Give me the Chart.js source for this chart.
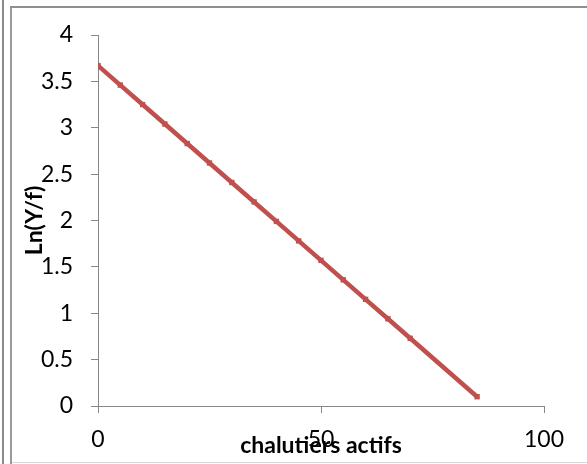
<!DOCTYPE html>
<html>
<head>
<meta charset="utf-8">
<script src="https://cdn.jsdelivr.net/npm/chart.js@4"></script>
<style>
  html, body { margin: 0; padding: 0; background: #fff; }
  #wrap { position: relative; width: 587px; height: 464px; overflow: hidden; }
  canvas { position: absolute; left: 0; top: 0; }
  .b { position: absolute; pointer-events: none; }
</style>
</head>
<body>
<div id="wrap">
  <canvas id="c" width="587" height="464"></canvas>
  <div class="b" style="left:2px;top:0;width:2px;height:464px;background:#8a8a8a"></div>
  <div class="b" style="left:10px;top:6px;width:2px;height:458px;background:#9a9a9a"></div>
  <div class="b" style="left:10px;top:6px;width:577px;height:2px;background:#8f8f8f"></div>
  <div class="b" style="left:12px;top:462px;width:575px;height:1px;background:#d8d8d8"></div>
</div>
<script>
const xValues = [0, 5, 10, 15, 20, 25, 30, 35, 40, 45, 50, 55, 60, 65, 70, 85];
const yValues = [3.67, 3.46, 3.25, 3.04, 2.83, 2.62, 2.41, 2.20, 1.99, 1.78, 1.57, 1.36, 1.15, 0.94, 0.73, 0.10];
const xTitle = "chalutiers actifs";
const yTitle = "Ln(Y/f)";
const xTicks = [0, 50, 100];
const yTicks = [0, 0.5, 1, 1.5, 2, 2.5, 3, 3.5, 4];

const FONT = "Lato, 'Open Sans', sans-serif";
const axisColor = '#868686';

const titlePlugin = {
  id: 'axisTitles',
  afterDraw(chart) {
    const ctx = chart.ctx;
    const ca = chart.chartArea;
    ctx.save();
    ctx.fillStyle = '#000';
    ctx.font = "bold 23px " + FONT;
    ctx.textAlign = 'center';
    ctx.textBaseline = 'middle';
    ctx.fillText(xTitle, (ca.left + ca.right) / 2, 446);
    ctx.translate(35, (ca.top + ca.bottom) / 2);
    ctx.rotate(-Math.PI / 2);
    ctx.fillText(yTitle, 0, 0);
    ctx.restore();
  }
};

new Chart(document.getElementById('c'), {
  type: 'scatter',
  data: {
    datasets: [{
      data: xValues.map((x, i) => ({ x: x, y: yValues[i] })),
      showLine: true,
      borderColor: '#C0504D',
      backgroundColor: '#C0504D',
      borderWidth: 4.5,
      pointStyle: 'rect',
      pointRadius: 3.8,
      pointHoverRadius: 3.8,
      pointBorderWidth: 0
    }]
  },
  options: {
    responsive: false,
    animation: false,
    devicePixelRatio: 1,
    layout: { padding: { left: 0, right: 43, top: 35, bottom: 0 } },
    plugins: { legend: { display: false }, tooltip: { enabled: false } },
    scales: {
      x: {
        type: 'linear',
        min: 0, max: 100,
        afterBuildTicks(scale) { scale.ticks = xTicks.map(v => ({ value: v })); },
        afterFit(scale) { scale.height = 58; },
        grid: { display: true, drawOnChartArea: false, drawTicks: true, tickLength: 7, color: axisColor, lineWidth: 1 },
        border: { display: true, color: axisColor, width: 1 },
        ticks: { color: '#000', padding: 13, maxRotation: 0, font: { family: FONT, size: 23 }, callback: v => String(v) }
      },
      y: {
        type: 'linear',
        min: 0, max: 4,
        afterBuildTicks(scale) { scale.ticks = yTicks.map(v => ({ value: v })); },
        afterFit(scale) { scale.width = 98; },
        grid: { display: true, drawOnChartArea: false, drawTicks: true, tickLength: 7, color: axisColor, lineWidth: 1 },
        border: { display: true, color: axisColor, width: 1 },
        ticks: { color: '#000', padding: 18, font: { family: FONT, size: 23 }, callback: v => String(v) }
      }
    }
  },
  plugins: [titlePlugin]
});
</script>
</body>
</html>
